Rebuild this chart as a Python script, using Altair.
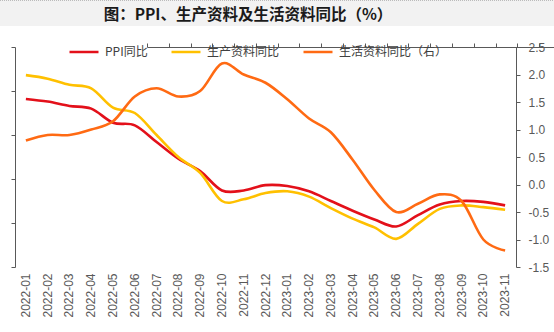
import altair as alt
import pandas as pd

months = ["2022-01", "2022-02", "2022-03", "2022-04", "2022-05", "2022-06",
          "2022-07", "2022-08", "2022-09", "2022-10", "2022-11", "2022-12",
          "2023-01", "2023-02", "2023-03", "2023-04", "2023-05", "2023-06",
          "2023-07", "2023-08", "2023-09", "2023-10", "2023-11"]
ppi = [9.1, 8.8, 8.3, 8.0, 6.4, 6.1, 4.2, 2.3, 0.9, -1.3, -1.3, -0.7,
       -0.8, -1.4, -2.5, -3.6, -4.6, -5.4, -4.1, -2.9, -2.5, -2.6, -3.0]
prod = [11.8, 11.4, 10.7, 10.3, 8.1, 7.5, 5.0, 2.5, 0.7, -2.5, -2.3, -1.6,
        -1.4, -2.0, -3.3, -4.5, -5.5, -6.8, -5.1, -3.4, -3.0, -3.2, -3.5]
cons = [0.8, 0.9, 0.9, 1.0, 1.15, 1.6, 1.75, 1.6, 1.7, 2.2, 2.0, 1.85,
        1.55, 1.2, 0.95, 0.45, -0.1, -0.5, -0.35, -0.18, -0.3, -1.0, -1.2]

names = ["PPI同比", "生产资料同比", "生活资料同比（右）"]
colors = ["#E3101A", "#FFC000", "#FF6A13"]
left_ticks = [-10, -5, 0, 5, 10, 15]
right_ticks = [-1.5, -1.0, -0.5, 0.0, 0.5, 1.0, 1.5, 2.0, 2.5]
title_text = "图：PPI、生产资料及生活资料同比（%）"

df = pd.DataFrame({
    "month": months * 3,
    "series": [names[0]] * len(months) + [names[1]] * len(months) + [names[2]] * len(months),
    "value": ppi + prod + cons,
})

W, H = 501, 220
LAB = "Liberation Sans"
CJK = "Noto Sans CJK SC"

xscale = alt.Scale(type="band", domain=months, paddingInner=0, paddingOuter=0)
cscale = alt.Scale(domain=names, range=colors)
legend = alt.Legend(
    orient="none", legendX=53, legendY=-11, direction="horizontal", columns=3,
    title=None, symbolType="stroke", symbolSize=841, symbolStrokeWidth=2.5,
    labelFont=CJK, labelFontSize=12, labelColor="#404040", labelOffset=5,
    columnPadding=18, padding=0,
)

base = alt.Chart(df)

left = base.transform_filter(
    alt.FieldOneOfPredicate(field="series", oneOf=names[:2])
).mark_line(strokeWidth=2.6, interpolate="cardinal").encode(
    x=alt.X("month:N", scale=xscale, sort=months,
            axis=alt.Axis(orient="bottom", title=None, labelAngle=-90, domain=False,
                          ticks=False, labelPadding=6, labelFont=LAB, labelFontSize=12,
                          labelColor="#595959", labelOverlap=False)),
    y=alt.Y("value:Q", scale=alt.Scale(domain=[-10, 15], nice=False, zero=False),
            axis=alt.Axis(orient="left", title=None, labels=False, values=left_ticks,
                          grid=False, domainColor="#595959", tickColor="#595959",
                          tickSize=4, domainWidth=1)),
    color=alt.Color("series:N", scale=cscale, legend=legend, sort=names),
)

right = base.transform_filter(
    alt.FieldEqualPredicate(field="series", equal=names[2])
).mark_line(strokeWidth=2.6, interpolate="cardinal").encode(
    x=alt.X("month:N", scale=xscale, sort=months,
            axis=alt.Axis(orient="top", position=132, title=None, labels=False,
                          domainColor="#595959", tickColor="#595959", tickSize=4,
                          tickBand="extent", domainWidth=1)),
    y=alt.Y("value:Q", scale=alt.Scale(domain=[-1.5, 2.5], nice=False, zero=False),
            axis=alt.Axis(orient="right", title=None, values=right_ticks, grid=False,
                          labelExpr="(datum.value < 0 ? '-' : '') + format(abs(datum.value), '.1f')",
                          labelFont=LAB, labelFontSize=12, labelColor="#595959",
                          labelPadding=8, tickSize=4, domainColor="#595959",
                          tickColor="#595959", domainWidth=1)),
    color=alt.Color("series:N", scale=cscale, legend=legend, sort=names),
)

dummy = alt.Chart(pd.DataFrame({"k": [0]}))
band = dummy.mark_rect(color="#F2F2F2").encode(
    x=alt.value(-15), x2=alt.value(539), y=alt.value(-47), y2=alt.value(-21))
dots = dummy.mark_rule(color="#BBBBBB", strokeDash=[1, 1], strokeWidth=1).encode(
    x=alt.value(-15), x2=alt.value(539), y=alt.value(-46.5))
title = dummy.mark_text(text=title_text, font=CJK, fontSize=15.5, fontWeight="bold",
                        color="#1A1A1A", align="center", baseline="middle").encode(
    x=alt.value(233), y=alt.value(-32.5))

chart = alt.layer(band, dots, title, left, right).resolve_scale(
    y="independent"
).resolve_axis(
    x="independent", y="independent"
).properties(
    width=W, height=H,
    autosize=alt.AutoSizeParams(type="none"),
    padding={"left": 15, "top": 47, "right": 38, "bottom": 65},
    background="white",
).configure_view(stroke=None)

chart.save("out.html", embed_options={"renderer": "svg", "actions": False})
